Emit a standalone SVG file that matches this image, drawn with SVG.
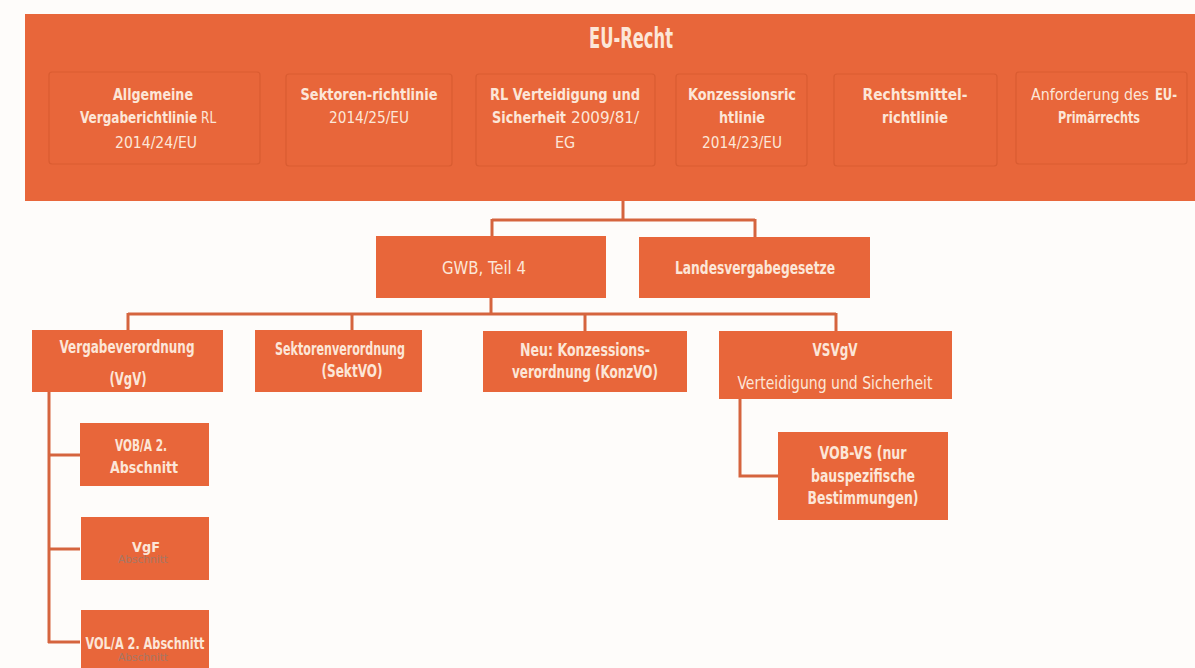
<svg xmlns="http://www.w3.org/2000/svg" width="1195" height="668" viewBox="0 0 1195 668">
<style>
text{font-family:"DejaVu Sans Condensed","Liberation Sans Narrow","Liberation Sans",sans-serif;font-stretch:condensed;fill:#FCE6D8;text-anchor:middle;}
.b{font-weight:bold;}
.r{font-weight:normal;}
.s{text-anchor:start;}
.e{text-anchor:end;}
.t{font-size:16px;}
.n{font-size:17px;}
.box{fill:#E8663A;}
.inner{fill:#E8663A;stroke:#D95C31;stroke-width:1.2;}
.conn{fill:none;stroke:#D5643E;stroke-width:3;}
.ghost{fill:#8C7F78;font-size:11px;opacity:0.7;font-weight:normal;}
</style>
<rect x="0" y="0" width="1195" height="668" fill="#FEFCFA"/>
<g id="eu-recht">
<rect class="box" x="25" y="14" width="1170" height="187"/>
<text class="b" x="631" y="48" font-size="28" textLength="84" lengthAdjust="spacingAndGlyphs">EU-Recht</text>
</g>
<g id="allgemeine">
<rect class="inner" x="49" y="72" width="211" height="92" rx="3"/>
<text class="t b" x="153" y="100" textLength="80" lengthAdjust="spacingAndGlyphs">Allgemeine</text>
<text class="t" transform="translate(148,123) scale(0.84,1)" x="0" y="0"><tspan class="b">Vergaberichtlinie</tspan><tspan class="r">  RL</tspan></text>
<text class="t r" x="156" y="148" textLength="82" lengthAdjust="spacingAndGlyphs">2014/24/EU</text>
</g>
<g id="sektoren-rl">
<rect class="inner" x="286" y="74" width="166" height="92" rx="3"/>
<text class="t b" x="369" y="100" textLength="137" lengthAdjust="spacingAndGlyphs">Sektoren-richtlinie</text>
<text class="t r" x="369" y="123" textLength="80" lengthAdjust="spacingAndGlyphs">2014/25/EU</text>
</g>
<g id="rl-verteidigung">
<rect class="inner" x="476" y="74" width="179" height="92" rx="3"/>
<text class="t b" x="565" y="100" textLength="150" lengthAdjust="spacingAndGlyphs">RL Verteidigung und</text>
<text class="t b s" x="492" y="123" textLength="74" lengthAdjust="spacingAndGlyphs">Sicherheit</text>
<text class="t r s" x="571" y="123" textLength="68" lengthAdjust="spacingAndGlyphs">2009/81/</text>
<text class="t r" x="565" y="148">EG</text>
</g>
<g id="konzessions-rl">
<rect class="inner" x="676" y="74" width="131" height="92" rx="3"/>
<text class="t b" x="742" y="100" textLength="108" lengthAdjust="spacingAndGlyphs">Konzessionsric</text>
<text class="t b" x="742" y="123" textLength="46" lengthAdjust="spacingAndGlyphs">htlinie</text>
<text class="t r" x="742" y="148" textLength="80" lengthAdjust="spacingAndGlyphs">2014/23/EU</text>
</g>
<g id="rechtsmittel">
<rect class="inner" x="834" y="74" width="163" height="92" rx="3"/>
<text class="t b" x="915" y="100" textLength="105" lengthAdjust="spacingAndGlyphs">Rechtsmittel-</text>
<text class="t b" x="915" y="123" textLength="66" lengthAdjust="spacingAndGlyphs">richtlinie</text>
</g>
<g id="primaerrecht">
<rect class="inner" x="1016" y="72" width="171" height="92" rx="3"/>
<text class="t r s" x="1031" y="100" textLength="118" lengthAdjust="spacingAndGlyphs">Anforderung des</text>
<text class="t b s" x="1155" y="100" textLength="22" lengthAdjust="spacingAndGlyphs">EU-</text>
<text class="t b" x="1099" y="123" textLength="82" lengthAdjust="spacingAndGlyphs">Primärrechts</text>
</g>
<g id="connectors">
<path class="conn" d="M623 201 V220 M492 220 H755 M492 219 V237 M755 219 V237"/>
<path class="conn" d="M491 298 V314 M128 314 H836 M128 313 V331 M352 313 V331 M585 313 V331 M836 313 V331"/>
<path class="conn" d="M49 392 V643 M48 455 H80 M48 549 H80 M48 642 H80"/>
<path class="conn" d="M740 399 V476 H778"/>
</g>
<g id="gwb">
<rect class="box" x="376" y="236" width="230" height="62"/>
<text class="n r" x="484" y="274" textLength="84" lengthAdjust="spacingAndGlyphs">GWB, Teil 4</text>
</g>
<g id="landesvergabegesetze">
<rect class="box" x="639" y="237" width="231" height="61"/>
<text class="n b" x="755" y="274" textLength="160" lengthAdjust="spacingAndGlyphs">Landesvergabegesetze</text>
</g>
<g id="vgv">
<rect class="box" x="32" y="330" width="191" height="62"/>
<text class="n b" x="127" y="353" textLength="135" lengthAdjust="spacingAndGlyphs">Vergabeverordnung</text>
<text class="n b" x="128" y="385" textLength="37" lengthAdjust="spacingAndGlyphs">(VgV)</text>
</g>
<g id="sektvo">
<rect class="box" x="255" y="330" width="167" height="62"/>
<text class="n b" x="340" y="355" textLength="130" lengthAdjust="spacingAndGlyphs">Sektorenverordnung</text>
<text class="n b" x="352" y="377" textLength="61" lengthAdjust="spacingAndGlyphs">(SektVO)</text>
</g>
<g id="konzvo">
<rect class="box" x="483" y="331" width="204" height="61"/>
<text class="n b" x="585" y="356" textLength="130" lengthAdjust="spacingAndGlyphs">Neu: Konzessions-</text>
<text class="n b" x="585" y="378" textLength="146" lengthAdjust="spacingAndGlyphs">verordnung (KonzVO)</text>
</g>
<g id="vsvgv">
<rect class="box" x="719" y="331" width="233" height="68"/>
<text class="n b" x="835" y="356" textLength="45" lengthAdjust="spacingAndGlyphs">VSVgV</text>
<text class="n r" x="835" y="389" textLength="195" lengthAdjust="spacingAndGlyphs">Verteidigung und Sicherheit</text>
</g>
<g id="vob-vs">
<rect class="box" x="778" y="432" width="170" height="88"/>
<text class="n b" x="863" y="459" textLength="87" lengthAdjust="spacingAndGlyphs">VOB-VS (nur</text>
<text class="n b" x="863" y="482" textLength="104" lengthAdjust="spacingAndGlyphs">bauspezifische</text>
<text class="n b" x="863" y="504" textLength="111" lengthAdjust="spacingAndGlyphs">Bestimmungen)</text>
</g>
<g id="vob-a">
<rect class="box" x="80" y="423" width="129" height="63"/>
<text class="t b" x="141" y="451" textLength="52" lengthAdjust="spacingAndGlyphs">VOB/A 2.</text>
<text class="t b" x="144" y="473" textLength="68" lengthAdjust="spacingAndGlyphs">Abschnitt</text>
</g>
<g id="vgf">
<rect class="box" x="81" y="517" width="128" height="63"/>
<text class="b" x="146" y="552" font-size="14" textLength="28" lengthAdjust="spacingAndGlyphs">VgF</text>
<text class="ghost" x="143" y="563" textLength="50" lengthAdjust="spacingAndGlyphs">Abschnitt</text>
</g>
<g id="vol-a">
<rect class="box" x="81" y="610" width="128" height="60"/>
<text class="t b" x="145" y="649" textLength="119" lengthAdjust="spacingAndGlyphs">VOL/A 2.  Abschnitt</text>
<text class="ghost" x="143" y="661" textLength="50" lengthAdjust="spacingAndGlyphs">Abschnitt</text>
</g>
</svg>
